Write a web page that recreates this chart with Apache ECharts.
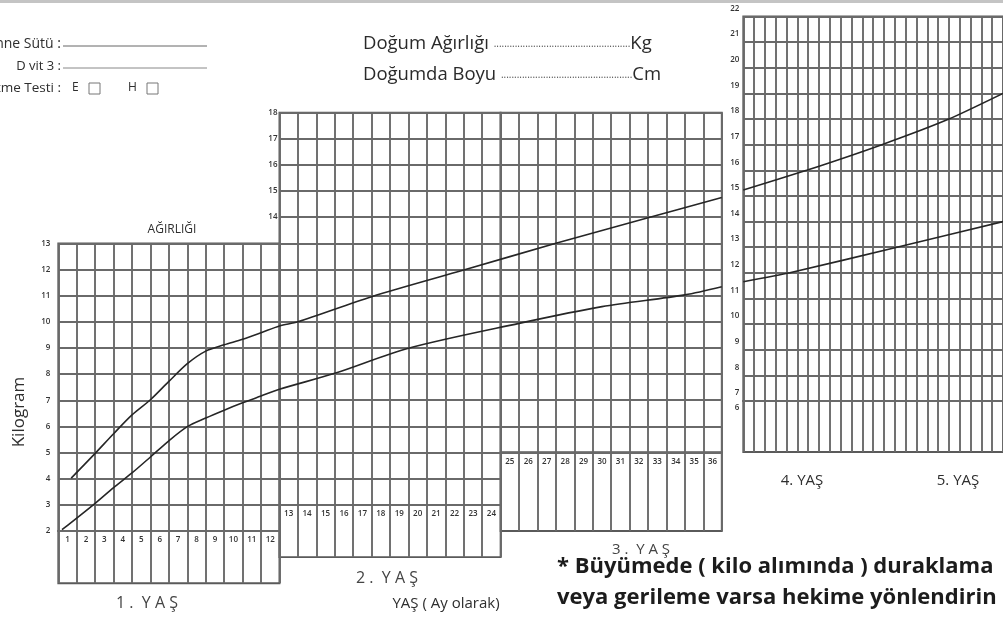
<!DOCTYPE html>
<html><head><meta charset="utf-8">
<script src="https://cdn.jsdelivr.net/npm/echarts@6/dist/echarts.min.js"></script>
<style>html,body{margin:0;padding:0;background:#fff}#c{width:1003px;height:617px}</style>
</head><body><div id="c"></div>
<script>
// ---------- data ----------
const monthLabelsYear1 = ['1','2','3','4','5','6','7','8','9','10','11','12'];
const monthLabelsYear2 = ['13','14','15','16','17','18','19','20','21','22','23','24'];
const monthLabelsYear3 = ['25','26','27','28','29','30','31','32','33','34','35','36'];
const kgLabelsPanel1 = [2,3,4,5,6,7,8,9,10,11,12,13];
const kgLabelsPanel2 = [14,15,16,17,18];
const kgLabelsPanel4 = [7,8,9,10,11,12,13,14,15,16,17,18,19,20,21,22];
const kgLabelsPanel4Low = [6];

// upper curve, months 0-36 (kg)
const upperMonths = [0.7, 2, 3, 4, 5, 6, 7, 8, 9, 10, 11, 12, 13, 17, 22, 27, 32, 36];
const upperKg     = [4.02, 4.97, 5.72, 6.44, 7.02, 7.72, 8.40, 8.88, 9.12, 9.33, 9.58, 9.84, 10.0, 10.96, 11.98, 13.0, 13.98, 14.75];
// lower curve, months 0-36 (kg)
const lowerMonths = [0.2, 2, 3, 4, 5, 6, 7, 8, 9, 10, 11, 12, 15, 19, 25, 29.5, 34, 36];
const lowerKg     = [2.05, 3.06, 3.66, 4.22, 4.83, 5.45, 5.99, 6.32, 6.62, 6.90, 7.16, 7.42, 8.03, 8.99, 9.94, 10.58, 11.03, 11.34];
// 4th-5th year panel
const upperMonthsY45 = [36, 41.85, 48.8, 55, 60];
const upperKgY45     = [15.23, 16, 17, 18, 19.0];
const lowerMonthsY45 = [36, 40.3, 50.2, 60];
const lowerKgY45     = [11.65, 12, 13, 14.0];

// ---------- layout ----------
const X0 = 58.3, CW = 18.43, Y0 = 583.3, RH = 26.15;
const gx = m => X0 + m * CW;
const gy = v => Y0 - v * RH;
const P4L = 743.3, P4W = 260, P4TOP = 16.5, P4Y7 = 401, P4BOT = 452;

const FONT = '"Open Sans", "Noto Sans", sans-serif';
const GRIDLINE = {color: '#6a6a6a', width: 1.9};
const BORDER = {show: true, borderColor: '#5a5a5a', borderWidth: 1.9, backgroundColor: 'transparent'};
const tickFont = {fontSize: 8, fontFamily: FONT, fontWeight: 600, color: '#333'};

function g(left, top, width, height, show) {
  return Object.assign({left, top, width, height, containLabel: false}, show === false ? {show: false} : BORDER);
}
const grids = [
  g(gx(0),  gy(13), 12*CW, 11*RH),   // 0 P1 upper
  g(gx(0),  gy(2),  12*CW, 2*RH),    // 1 P1 lower
  g(gx(12), gy(18), 12*CW, 15*RH),   // 2 P2 upper
  g(gx(12), gy(3),  12*CW, 2*RH),    // 3 P2 lower
  g(gx(24), gy(18), 12*CW, 13*RH),   // 4 P3 upper
  g(gx(24), gy(5),  12*CW, 3*RH),    // 5 P3 lower
  g(gx(0),  gy(18), 36*CW, 18*RH, false), // 6 overlay for curves
  g(P4L, P4TOP, P4W, P4Y7 - P4TOP),  // 7 P4 upper
  g(P4L, P4Y7, P4W, P4BOT - P4Y7)    // 8 P4 lower
];

function catX(gi, labels, showLabels) {
  return {gridIndex: gi, type: 'category', data: labels, boundaryGap: true,
    axisLine: {show: false}, axisTick: {show: false},
    axisLabel: Object.assign({show: showLabels, interval: 0, margin: 5}, tickFont),
    splitLine: {show: true, interval: 0, lineStyle: GRIDLINE}};
}
function valX(gi, min, max, show) {
  return {gridIndex: gi, type: 'value', min, max, interval: 1, show: show !== false,
    axisLine: {show: false}, axisTick: {show: false}, axisLabel: {show: false},
    splitLine: {show: show !== false, lineStyle: GRIDLINE}};
}
function valY(gi, min, max, labels, split, lab) {
  return {gridIndex: gi, type: 'value', min, max, interval: 1,
    axisLine: {show: false}, axisTick: {show: false},
    axisLabel: Object.assign({show: !!labels, margin: 3,
      formatter: v => (labels && labels.indexOf(v) >= 0) ? String(v) : ''}, tickFont, lab || {}),
    splitLine: {show: split, lineStyle: GRIDLINE}};
}

const xAxes = [
  catX(0, monthLabelsYear1, true),
  catX(1, monthLabelsYear1, false),
  catX(2, monthLabelsYear2, true),
  catX(3, monthLabelsYear2, false),
  catX(4, monthLabelsYear3, true),
  catX(5, monthLabelsYear3, false),
  valX(6, 0, 36, false),
  valX(7, 36, 60),
  valX(8, 36, 60)
];
const yAxes = [
  valY(0, 2, 13, kgLabelsPanel1, true, {margin: 8, verticalAlign: 'middle', padding: [0,0,5,0]}),
  valY(1, 0, 2, null, false),
  valY(2, 3, 18, kgLabelsPanel2, true, {margin: 2, verticalAlign: 'middle', padding: [0,0,9,0]}),
  valY(3, 1, 3, null, false),
  valY(4, 5, 18, null, true),
  valY(5, 2, 5, null, false),
  Object.assign(valY(6, 0, 18, null, false), {show: false}),
  valY(7, 7, 22, kgLabelsPanel4, true, {margin: 4, verticalAlign: 'bottom', padding: [0,0,4,0]}),
  valY(8, 5, 7, kgLabelsPanel4Low, false, {margin: 4, verticalAlign: 'bottom', padding: [0,0,15,0]})
];

const zip = (a, b) => a.map((v, i) => [v, b[i]]);
const curveStyle = {color: '#262626', width: 1.6};
function curve(name, xi, data, sm) {
  return {name, type: 'line', xAxisIndex: xi, yAxisIndex: xi, data, symbol: 'none',
    smooth: sm, lineStyle: curveStyle, z: 5, silent: true};
}
const series = [
  curve('üst', 6, zip(upperMonths, upperKg), 0.3),
  curve('alt', 6, zip(lowerMonths, lowerKg), 0.3),
  curve('üst 4-5', 7, zip(upperMonthsY45, upperKgY45), 0.2),
  curve('alt 4-5', 7, zip(lowerMonthsY45, lowerKgY45), 0.2)
];

function txt(x, y, text, font, opts) {
  return Object.assign({type: 'text', x, y, silent: true,
    style: Object.assign({text, font, fill: '#2e2e2e', align: 'left', verticalAlign: 'middle'}, (opts && opts.style) || {})},
    opts && opts.rotation !== undefined ? {rotation: opts.rotation} : {});
}
function ln(x1, y1, x2, y2, color, w) {
  return {type: 'line', silent: true, shape: {x1, y1, x2, y2}, style: {stroke: color || '#666', lineWidth: w || 1}};
}
function box(x, y, w, h) {
  return {type: 'rect', silent: true, shape: {x, y, width: w, height: h}, style: {fill: 'none', stroke: '#777', lineWidth: 1}};
}
const F = (s, w) => (w ? w + ' ' : '') + s + 'px "Open Sans", "Noto Sans", sans-serif';
const headRich = {a: {font: F(18.5), fill: '#2a2a2a'}, d: {font: F(10), fill: '#555'}};

const graphic = [
  {type: 'rect', silent: true, shape: {x: 0, y: 0, width: 1003, height: 3}, style: {fill: '#c4c4c4'}},
  txt(61, 44, 'Anne Sütü :', F(14), {style: {align: 'right'}}),
  ln(63, 46, 207, 46, '#666', 1),
  txt(61, 66, 'D vit 3 :', F(13), {style: {align: 'right'}}),
  ln(63, 68, 207, 68, '#888', 1),
  txt(61, 88, 'İşitme Testi :', F(13.5), {style: {align: 'right'}}),
  txt(72, 88, 'E', F(12)), box(89, 83, 11, 11),
  txt(128, 88, 'H', F(12)), box(147, 83, 11, 11),
  txt(363, 44, '{a|Doğum Ağırlığı }{d|....................................................}{a|Kg}', F(18.5), {style: {rich: headRich}}),
  txt(363, 75, '{a|Doğumda Boyu }{d|..................................................}{a|Cm}', F(18.5), {style: {rich: headRich}}),
  txt(172, 230, 'AĞIRLIĞI', F(12), {style: {align: 'center'}}),
  txt(19, 412, 'Kilogram', F(17), {rotation: Math.PI / 2, style: {align: 'center'}}),
  txt(147, 603, '1 .  Y A Ş', F(16), {style: {align: 'center', fill: '#444'}}),
  txt(387, 578, '2 .  Y A Ş', F(16), {style: {align: 'center', fill: '#444'}}),
  txt(641, 550, '3 .  Y A Ş', F(15), {style: {align: 'center', fill: '#444'}}),
  txt(446, 604, 'YAŞ ( Ay olarak)', F(15), {style: {align: 'center'}}),
  txt(802, 481, '4. YAŞ', F(15), {style: {align: 'center'}}),
  txt(958, 481, '5. YAŞ', F(15), {style: {align: 'center'}}),
  txt(557, 567, '* Büyümede ( kilo alımında ) duraklama', F(22, 'bold'), {style: {fill: '#1c1c1c'}}),
  txt(557, 598, 'veya gerileme varsa hekime yönlendirin', F(22, 'bold'), {style: {fill: '#1c1c1c'}})
];

const chart = echarts.init(document.getElementById('c'), null, {renderer: 'canvas'});
chart.setOption({
  animation: false,
  backgroundColor: '#ffffff',
  grid: grids,
  xAxis: xAxes,
  yAxis: yAxes,
  series,
  graphic
});
</script></body></html>
